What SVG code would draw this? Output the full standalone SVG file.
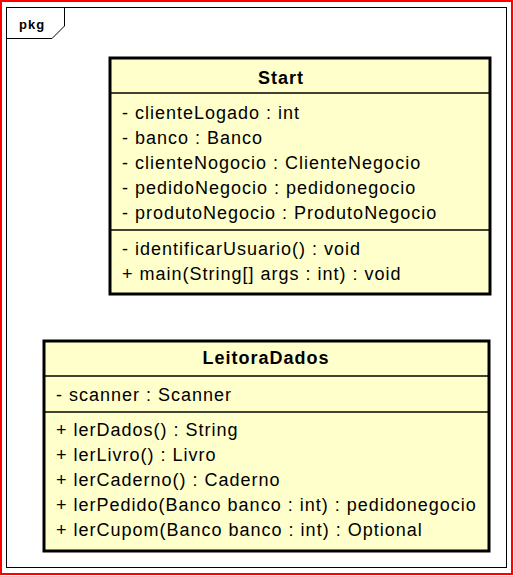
<svg xmlns="http://www.w3.org/2000/svg" width="514" height="576" viewBox="0 0 514 576">
<style>
text{font-family:"Liberation Sans",Arial,sans-serif;font-size:18px;fill:#000;letter-spacing:1px}
.t{font-weight:bold;text-anchor:middle}
.box{fill:#FFFFCC;stroke:#000;stroke-width:3}
.sep{stroke:#000;stroke-width:1.5}
</style>
<rect x="0" y="0" width="514" height="576" fill="#fff"/>
<rect x="1" y="1" width="511" height="573" fill="none" stroke="#f00" stroke-width="2"/>
<g id="pkg">
<rect x="6.5" y="7.5" width="500" height="560" fill="none" stroke="#000" stroke-width="1"/>
<path d="M6.5 38.5 H52 L64.5 26 V7.5" fill="none" stroke="#000" stroke-width="1"/>
<text x="19" y="29" style="font-size:13px;font-weight:bold">pkg</text>
</g>
<g id="Start">
<rect class="box" x="110" y="58" width="380" height="236"/>
<line class="sep" x1="110" y1="93" x2="490" y2="93"/>
<line class="sep" x1="110" y1="230" x2="490" y2="230"/>
<text class="t" x="281" y="84">Start</text>
<text x="122" y="119">- clienteLogado : int</text>
<text x="122" y="144">- banco : Banco</text>
<text x="122" y="169">- clienteNogocio : ClienteNegocio</text>
<text x="122" y="194">- pedidoNegocio : pedidonegocio</text>
<text x="122" y="219">- produtoNegocio : ProdutoNegocio</text>
<text x="122" y="255">- identificarUsuario() : void</text>
<text x="122" y="280">+ main(String[] args : int) : void</text>
</g>
<g id="LeitoraDados">
<rect class="box" x="44" y="341" width="445" height="210"/>
<line class="sep" x1="44" y1="376" x2="489" y2="376"/>
<line class="sep" x1="44" y1="412" x2="489" y2="412"/>
<text class="t" x="266" y="364">LeitoraDados</text>
<text x="56" y="401">- scanner : Scanner</text>
<text x="56" y="436">+ lerDados() : String</text>
<text x="56" y="461">+ lerLivro() : Livro</text>
<text x="56" y="486">+ lerCaderno() : Caderno</text>
<text x="56" y="511">+ lerPedido(Banco banco : int) : pedidonegocio</text>
<text x="56" y="536">+ lerCupom(Banco banco : int) : Optional</text>
</g>
<g id="connectors"></g>
</svg>
